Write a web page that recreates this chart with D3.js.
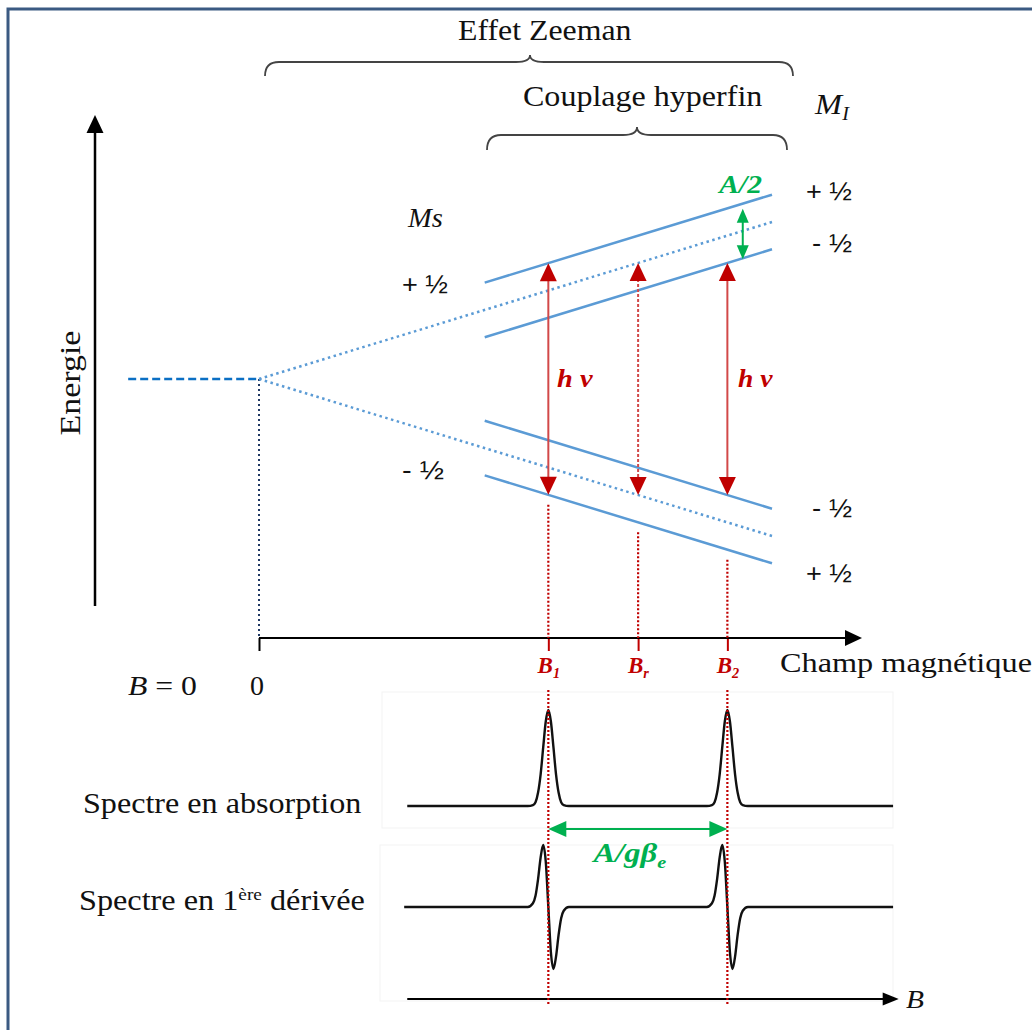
<!DOCTYPE html>
<html><head><meta charset="utf-8">
<script src="https://cdn.jsdelivr.net/npm/d3@7"></script>
<style>body{margin:0;background:#fff}svg{display:block}</style>
</head><body>
<svg id="c" width="1032" height="1030"></svg>
<script>
// ---------- data ----------
const fieldDomain = [0, 100];
const energyDomain = [-100, 100];
const msStates = [0.5, -0.5];
const msLabels = ["+ ½", "- ½"];
const levelStates = [[0.5, 0.5], [0.5, -0.5], [-0.5, -0.5], [-0.5, 0.5]]; // [Ms, MI]
const levelLabels = ["+ ½", "- ½", "- ½", "+ ½"];
const zeemanFactor = 2;          // E = zeemanFactor * Ms * B
const hyperfineA = 69.6;         // + A * Ms * MI
const zeroFieldRange = [-25.5, 0];
const zeemanRange = [0, 100];
const hyperfineRange = [44, 100];
const resonanceSubs = ["1", "r", "2"];
const resonanceFields = [56.4, 73.9, 91.3];
const resonanceMI = [0.5, null, -0.5];
const splittingField = 94.3;
const absorptionRange = [28.9, 123.6];
const derivativeRange = [28.3, 123.6];
const spectrumAxisRange = [28.9, 124.7];
const peakFields = [56.4, 91.3];
const profileOffsets   = [-4, -3, -2.5, -2, -1.5, -1, -0.5, 0, 0.5, 1, 1.5, 2, 2.5, 3, 4];
const absorptionShape  = [0, 0.01, 0.04, 0.14, 0.33, 0.61, 0.88, 1, 0.88, 0.61, 0.33, 0.14, 0.04, 0.01, 0];
const derivativeShape  = [0, 0.06, 0.18, 0.45, 0.80, 1, 0.73, 0, -0.73, -1, -0.80, -0.45, -0.18, -0.06, 0];

// ---------- setup ----------
const SERIF = "'Liberation Serif','Times New Roman',serif";
const SANS = "'Liberation Sans',Arial,sans-serif";
const RED = "#c00000", GREEN = "#00b050", BLUE = "#5b9bd5";
const svg = d3.select("#c");
const x = d3.scaleLinear().domain(fieldDomain).range([259, 772]);
const y = d3.scaleLinear().domain(energyDomain).range([536, 222]);
const absY = d3.scaleLinear().domain([0, 1]).range([806, 710]);
const derY = d3.scaleLinear().domain([-1, 1]).range([969, 845]);
const E = (ms, mi, B) => zeemanFactor * ms * B + (mi == null ? 0 : hyperfineA * ms * mi);
const AXIS_Y = 638;

// border
svg.append("rect").attr("x", 8).attr("y", 9).attr("width", 1200).attr("height", 1200)
  .attr("fill", "none").attr("stroke", "#3b5a82").attr("stroke-width", 3);

// faint spectrum frames
svg.append("rect").attr("x", 382).attr("y", 692).attr("width", 511).attr("height", 136)
  .attr("fill", "none").attr("stroke", "#f3f3f3").attr("stroke-width", 1);
svg.append("rect").attr("x", 380).attr("y", 845).attr("width", 513).attr("height", 156)
  .attr("fill", "none").attr("stroke", "#f3f3f3").attr("stroke-width", 1);

// helpers
function head(g, tx, ty, dx, dy, len, hw, fill) {
  const bx = tx - dx * len, by = ty - dy * len;
  const px = -dy * hw, py = dx * hw;
  g.append("path").attr("d", `M${tx},${ty}L${bx + px},${by + py}L${bx - px},${by - py}Z`).attr("fill", fill);
}
function brace(x1, x2, xm, yb, h, r, t) {
  svg.append("path").attr("fill", "none").attr("stroke", "#444").attr("stroke-width", 1.8)
    .attr("d", `M${x1},${yb + h} Q${x1},${yb} ${x1 + r},${yb} L${xm - r},${yb} Q${xm},${yb} ${xm},${yb - t} Q${xm},${yb} ${xm + r},${yb} L${x2 - r},${yb} Q${x2},${yb} ${x2},${yb + h}`);
}
function label(o) {
  const g = svg.append("g");
  const t = g.append("text").attr("font-family", o.family || SERIF).attr("font-size", o.size)
    .attr("fill", o.fill || "#111");
  let shift = 0;
  o.parts.forEach(p => {
    const ts = t.append("tspan").text(p.t);
    if (p.i) ts.attr("font-style", "italic");
    if (p.b) ts.attr("font-weight", "bold");
    let want = 0;
    if (p.sub) { ts.attr("font-size", o.size * 0.62); want = o.size * 0.22; }
    if (p.sup) { ts.attr("font-size", o.size * 0.6); want = -o.size * 0.36; }
    if (want !== shift) { ts.attr("dy", want - shift); shift = want; }
  });
  const bb = t.node().getBBox();
  const s = o.w ? o.w / bb.width : 1;
  if (o.rotate) {
    g.attr("transform", `translate(${o.x},${o.y}) rotate(-90) translate(${-(bb.x + bb.width / 2) * s},0) scale(${s},1)`);
  } else {
    const x0 = o.anchor === "middle" ? o.x - (bb.x + bb.width / 2) * s : o.x - bb.x * s;
    g.attr("transform", `translate(${x0},${o.y}) scale(${s},1)`);
  }
}

// ---------- braces + titles ----------
brace(265, 793, 530, 62, 14, 14, 7);
brace(487, 787, 637, 135, 15, 14, 8);
label({ parts: [{ t: "Effet Zeeman" }], x: 458, y: 40, size: 29, w: 174 });
label({ parts: [{ t: "Couplage hyperfin" }], x: 523, y: 106, size: 29, w: 240 });
label({ parts: [{ t: "M", i: 1 }, { t: "I", i: 1, sub: 1 }], x: 814, y: 114, size: 29, w: 36 });

// ---------- energy axis ----------
const ax = svg.append("g");
ax.append("line").attr("x1", 95).attr("x2", 95).attr("y1", 606).attr("y2", 130)
  .attr("stroke", "#000").attr("stroke-width", 2.5);
head(ax, 95, 115, 0, -1, 18, 8.5, "#000");
label({ parts: [{ t: "Energie" }], x: 80, y: 383, size: 29, w: 105, rotate: 1 });

// ---------- field axis (d3 axis for ticks) ----------
const fieldAxis = svg.append("g").attr("transform", `translate(0,${AXIS_Y})`)
  .call(d3.axisBottom(x).tickValues([0].concat(resonanceFields)).tickSize(13).tickFormat(""));
fieldAxis.select(".domain").remove();
fieldAxis.selectAll(".tick line").attr("stroke-width", 2)
  .attr("stroke", (d, i) => i === 0 ? "#000" : RED);
svg.append("line").attr("x1", x(0)).attr("x2", 846).attr("y1", AXIS_Y).attr("y2", AXIS_Y)
  .attr("stroke", "#000").attr("stroke-width", 2);
head(svg, 862, AXIS_Y, 1, 0, 17, 8, "#000");

// ---------- levels ----------
// zero field
svg.append("line").attr("x1", x(zeroFieldRange[0])).attr("x2", x(zeroFieldRange[1]))
  .attr("y1", y(0)).attr("y2", y(0)).attr("stroke", "#0b6fc4").attr("stroke-width", 2.5)
  .attr("stroke-dasharray", "8,4");
// vertical dotted at B=0
svg.append("line").attr("x1", x(0)).attr("x2", x(0)).attr("y1", y(0)).attr("y2", AXIS_Y)
  .attr("stroke", "#1f3864").attr("stroke-width", 2).attr("stroke-dasharray", "2,3");
// Zeeman (dotted) lines
const line = d3.line().x(d => x(d[0])).y(d => y(d[1]));
msStates.forEach(ms => {
  svg.append("path").attr("d", line(zeemanRange.map(B => [B, E(ms, null, B)])))
    .attr("fill", "none").attr("stroke", BLUE).attr("stroke-width", 2.5).attr("stroke-dasharray", "2.5,3.5");
});
// hyperfine (solid) lines
levelStates.forEach(([ms, mi]) => {
  svg.append("path").attr("d", line(hyperfineRange.map(B => [B, E(ms, mi, B)])))
    .attr("fill", "none").attr("stroke", BLUE).attr("stroke-width", 2.5);
});

// ---------- resonance arrows ----------
resonanceFields.forEach((B, i) => {
  const mi = resonanceMI[i];
  const xi = x(B), yTop = y(E(0.5, mi, B)), yBot = y(E(-0.5, mi, B));
  const l = svg.append("line").attr("x1", xi).attr("x2", xi).attr("y1", yTop + 16).attr("y2", yBot - 16)
    .attr("stroke", "#d24848").attr("stroke-width", 2);
  if (mi == null) l.attr("stroke-dasharray", "3,2");
  head(svg, xi, yTop, 0, -1, 18, 8.5, RED);
  head(svg, xi, yBot, 0, 1, 18, 8.5, RED);
  // dotted projection to axis
  const yLow = y(E(-0.5, 0.5, B)) + 10;
  svg.append("line").attr("x1", xi).attr("x2", xi).attr("y1", yLow).attr("y2", AXIS_Y)
    .attr("stroke", RED).attr("stroke-width", 2.2).attr("stroke-dasharray", "2,2");
});

// A/2 splitting arrow
{
  const xs = x(splittingField);
  const y1 = y(E(0.5, 0.5, splittingField)) + 5, y2 = y(E(0.5, -0.5, splittingField)) + 1;
  svg.append("line").attr("x1", xs).attr("x2", xs).attr("y1", y1 + 12).attr("y2", y2 - 12)
    .attr("stroke", GREEN).attr("stroke-width", 2);
  head(svg, xs, y1, 0, -1, 14, 6, GREEN);
  head(svg, xs, y2, 0, 1, 14, 6, GREEN);
}

// ---------- level labels ----------
label({ parts: [{ t: "M", i: 1 }, { t: "s", i: 1 }], x: 407, y: 227, size: 28, w: 36 });
label({ parts: [{ t: msLabels[0] }], family: SANS, x: 402, y: 293, size: 26, w: 46 });
label({ parts: [{ t: msLabels[1] }], family: SANS, x: 402, y: 479, size: 26, w: 42 });
const rightY = [200, 252, 517, 582];
levelLabels.forEach((t, i) => {
  label({ parts: [{ t }], family: SANS, x: t.startsWith("+") ? 806 : 812, y: rightY[i], size: 26, w: t.startsWith("+") ? 46 : 40 });
});
label({ parts: [{ t: "A/2", i: 1, b: 1 }], fill: GREEN, x: 717, y: 193, size: 26, w: 45 });
label({ parts: [{ t: "h ν", i: 1, b: 1 }], fill: RED, x: 557, y: 387, size: 26, w: 36 });
label({ parts: [{ t: "h ν", i: 1, b: 1 }], fill: RED, x: 738, y: 387, size: 26, w: 35 });

// ---------- axis labels ----------
label({ parts: [{ t: "B", i: 1 }, { t: " = 0" }], x: 128, y: 695, size: 28, w: 69 });
label({ parts: [{ t: "0" }], x: x(0) - 2, y: 695, size: 28, anchor: "middle" });
resonanceFields.forEach((B, i) => {
  label({ parts: [{ t: "B", i: 1, b: 1 }, { t: resonanceSubs[i], i: 1, b: 1, sub: 1 }], fill: RED,
    x: x(B), y: 673, size: 23, anchor: "middle" });
});
label({ parts: [{ t: "Champ magnétique" }], x: 780, y: 672, size: 28, w: 252 });

// ---------- spectra ----------
function spectrum(range, shape) {
  const pts = [[range[0], 0]];
  peakFields.forEach(pf => profileOffsets.forEach((o, k) => pts.push([pf + o, shape[k]])));
  pts.push([range[1], 0]);
  return pts;
}
const absLine = d3.line().x(d => x(d[0])).y(d => absY(d[1])).curve(d3.curveMonotoneX);
const derLine = d3.line().x(d => x(d[0])).y(d => derY(d[1])).curve(d3.curveMonotoneX);
svg.append("path").attr("d", absLine(spectrum(absorptionRange, absorptionShape)))
  .attr("fill", "none").attr("stroke", "#111").attr("stroke-width", 2.4).attr("stroke-linejoin", "round");
svg.append("path").attr("d", derLine(spectrum(derivativeRange, derivativeShape)))
  .attr("fill", "none").attr("stroke", "#111").attr("stroke-width", 2.4).attr("stroke-linejoin", "round");

// spectrum B axis
svg.append("line").attr("x1", x(spectrumAxisRange[0])).attr("x2", x(spectrumAxisRange[1]) - 15)
  .attr("y1", 999).attr("y2", 999).attr("stroke", "#000").attr("stroke-width", 2);
head(svg, x(spectrumAxisRange[1]), 999, 1, 0, 16, 6.5, "#000");
label({ parts: [{ t: "B", i: 1 }], x: 906, y: 1008, size: 25, w: 18 });

// dotted resonance lines through spectra
peakFields.forEach(B => {
  svg.append("line").attr("x1", x(B)).attr("x2", x(B)).attr("y1", 690).attr("y2", 1005)
    .attr("stroke", RED).attr("stroke-width", 2.2).attr("stroke-dasharray", "2,2");
});

// A/gβe arrow
{
  const xa = x(peakFields[0]), xb = x(peakFields[1]), ya = 829;
  svg.append("line").attr("x1", xa + 15).attr("x2", xb - 15).attr("y1", ya).attr("y2", ya)
    .attr("stroke", GREEN).attr("stroke-width", 2.2);
  head(svg, xa, ya, -1, 0, 18, 8, GREEN);
  head(svg, xb, ya, 1, 0, 18, 8, GREEN);
}
label({ parts: [{ t: "A/g", i: 1, b: 1 }, { t: "β", i: 1, b: 1 }, { t: "e", i: 1, b: 1, sub: 1 }], fill: GREEN,
  x: 591, y: 862, size: 27, w: 76 });

label({ parts: [{ t: "Spectre en absorption" }], x: 83, y: 813, size: 29, w: 279 });
label({ parts: [{ t: "Spectre en 1" }, { t: "ère", sup: 1 }, { t: " dérivée" }], x: 79, y: 910, size: 29, w: 286 });
</script>
</body></html>
